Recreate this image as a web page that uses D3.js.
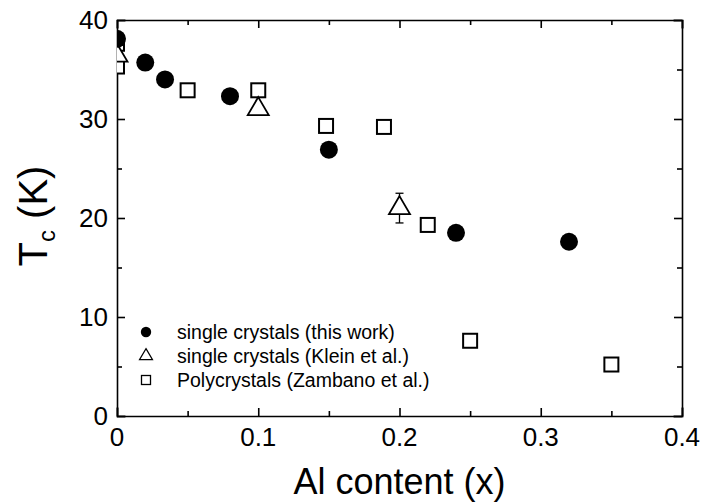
<!DOCTYPE html>
<html>
<head>
  <meta charset="utf-8">
  <script src="https://d3js.org/d3.v7.min.js"></script>
  <style>
    body { margin: 0; background: #fff; }
    text { font-family: Arial, "Liberation Sans", sans-serif; fill: #000; }
    .axis line, .axis path { stroke: #000; }
  </style>
</head>
<body>
  <svg width="704" height="504"></svg>
  <script>
    // single crystals (this work)
    var xThis = [0, 0.02, 0.034, 0.08, 0.15, 0.24, 0.32];
    var tcThis = [38.1, 35.7, 34.0, 32.3, 26.9, 18.5, 17.6];
    // single crystals (Klein et al.)
    var xKlein = [0, 0.1, 0.2];
    var tcKlein = [36.4, 31.0, 21.0];
    var errKlein = [0, 0, 1.5];
    // Polycrystals (Zambano et al.)
    var xZamb = [0, 0, 0.05, 0.1, 0.148, 0.189, 0.22, 0.25, 0.35];
    var tcZamb = [37.6, 35.3, 32.9, 32.9, 29.3, 29.2, 19.3, 7.6, 5.2];

    var xTicks = [0, 0.1, 0.2, 0.3, 0.4];
    var yTicks = [0, 10, 20, 30, 40];
    var legendLabels = ["single crystals (this work)", "single crystals (Klein et al.)", "Polycrystals (Zambano et al.)"];

    var svg = d3.select("svg");
    var L = 117, R = 682, T = 20, B = 416;
    var x = d3.scaleLinear().domain([0, 0.4]).range([L, R]);
    var y = d3.scaleLinear().domain([0, 40]).range([B, T]);

    svg.append("clipPath").attr("id", "clip")
      .append("rect").attr("x", L).attr("y", T).attr("width", R - L).attr("height", B - T);

    // ticks (inside, all four sides)
    var xMinor = d3.range(0.05, 0.4, 0.1);
    var yMinor = d3.range(5, 40, 10);
    function ax(gen, tr, major, minor) {
      var g = svg.append("g").attr("class", "axis").attr("transform", tr);
      g.call(gen.tickValues(major).tickSize(-8).tickFormat(""));
      g.append("g").call(gen.tickValues(minor).tickSize(-5).tickFormat(""))
        .select(".domain").remove();
      g.selectAll("line, path").attr("stroke-width", 1.6);
      return g;
    }
    ax(d3.axisBottom(x), "translate(0," + B + ")", xTicks, xMinor);
    ax(d3.axisTop(x), "translate(0," + T + ")", xTicks, xMinor);
    ax(d3.axisLeft(y), "translate(" + L + ",0)", yTicks, yMinor);
    ax(d3.axisRight(y), "translate(" + R + ",0)", yTicks, yMinor);
    svg.selectAll(".domain").attr("stroke-linecap", "square");

    // tick labels
    svg.selectAll(".xl").data(xTicks).enter().append("text")
      .attr("x", function(d) { return x(d); }).attr("y", 446)
      .attr("text-anchor", "middle").style("font-size", "26px")
      .text(function(d) { return d === 0 ? "0" : d3.format(".1f")(d); });
    svg.selectAll(".yl").data(yTicks).enter().append("text")
      .attr("x", 108).attr("y", function(d) { return y(d); }).attr("dy", "0.36em")
      .attr("text-anchor", "end").style("font-size", "26px")
      .text(function(d) { return d; });

    // axis titles
    svg.append("text").attr("x", (L + R) / 2).attr("y", 494)
      .attr("text-anchor", "middle").style("font-size", "36px").text("Al content (x)");
    var yt = svg.append("text").attr("transform", "translate(47,216) rotate(-90)")
      .attr("text-anchor", "middle").style("font-size", "40px");
    yt.append("tspan").text("T");
    yt.append("tspan").attr("dy", 8).style("font-size", "24px").text("c");
    yt.append("tspan").attr("dy", -8).text(" (K)");

    var plot = svg.append("g").attr("clip-path", "url(#clip)");

    function tri(w, h) {
      return "M0," + (-2 * h / 3) + "L" + (w / 2) + "," + (h / 3) + "L" + (-w / 2) + "," + (h / 3) + "Z";
    }

    // error bars (Klein)
    var errData = xKlein.map(function(d, i) { return [d, tcKlein[i], errKlein[i]]; })
      .filter(function(d) { return d[2] > 0; });
    var eb = plot.selectAll(".eb").data(errData).enter().append("g").attr("stroke", "#000").attr("stroke-width", 1.3);
    eb.append("line").attr("x1", function(d) { return x(d[0]); }).attr("x2", function(d) { return x(d[0]); })
      .attr("y1", function(d) { return y(d[1] - d[2]); }).attr("y2", function(d) { return y(d[1] + d[2]); });
    [-1, 1].forEach(function(s) {
      eb.append("line").attr("x1", function(d) { return x(d[0]) - 4; }).attr("x2", function(d) { return x(d[0]) + 4; })
        .attr("y1", function(d) { return y(d[1] + s * d[2]); }).attr("y2", function(d) { return y(d[1] + s * d[2]); });
    });

    // squares
    plot.selectAll(".sq").data(xZamb).enter().append("rect")
      .attr("x", function(d) { return x(d) - 7; })
      .attr("y", function(d, i) { return y(tcZamb[i]) - 7; })
      .attr("width", 14).attr("height", 14)
      .attr("fill", "#fff").attr("stroke", "#000").attr("stroke-width", 2);

    // triangles
    plot.selectAll(".tr").data(xKlein).enter().append("path")
      .attr("d", tri(21, 18))
      .attr("transform", function(d, i) { return "translate(" + x(d) + "," + y(tcKlein[i]) + ")"; })
      .attr("fill", "#fff").attr("stroke", "#000").attr("stroke-width", 1.8);

    // circles
    plot.selectAll(".ci").data(xThis).enter().append("circle")
      .attr("cx", function(d) { return x(d); })
      .attr("cy", function(d, i) { return y(tcThis[i]); })
      .attr("r", 9).attr("fill", "#000");

    // legend
    var lg = svg.append("g");
    var rows = [332, 356, 380];
    lg.append("circle").attr("cx", 146).attr("cy", rows[0]).attr("r", 5.2).attr("fill", "#000");
    lg.append("path").attr("d", tri(13, 11)).attr("transform", "translate(146," + rows[1] + ")")
      .attr("fill", "#fff").attr("stroke", "#000").attr("stroke-width", 1.2);
    lg.append("rect").attr("x", 141.5).attr("y", rows[2] - 4.5).attr("width", 9).attr("height", 9)
      .attr("fill", "#fff").attr("stroke", "#000").attr("stroke-width", 1.3);
    lg.selectAll("text").data(legendLabels).enter().append("text")
      .attr("x", 177).attr("y", function(d, i) { return rows[i] + 6.5; })
      .style("font-size", "19.5px").text(function(d) { return d; });
  </script>
</body>
</html>
